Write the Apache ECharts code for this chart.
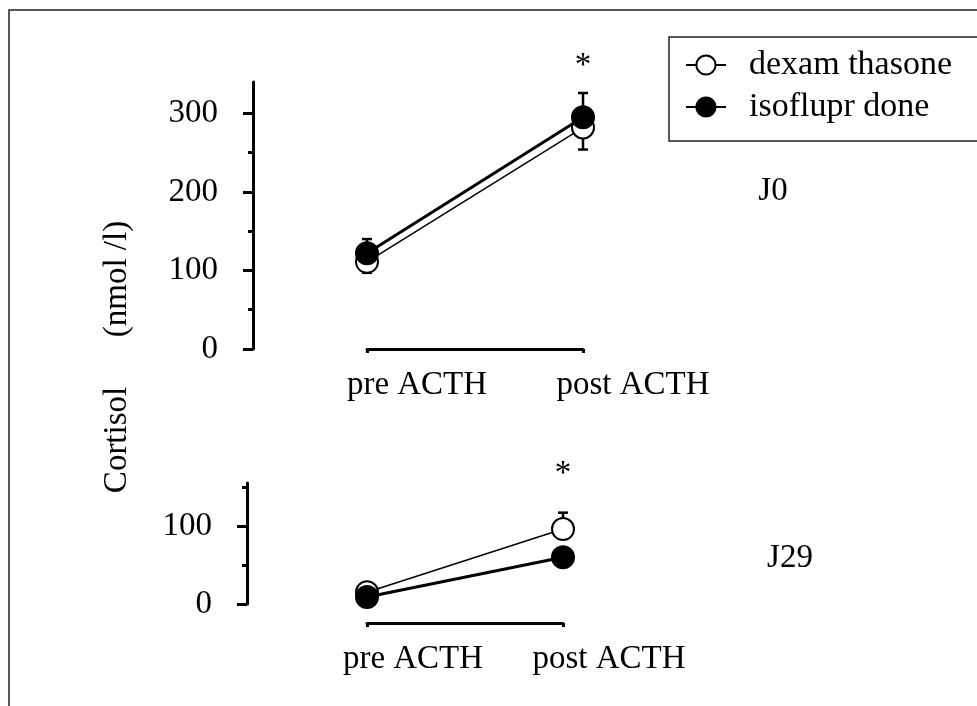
<!DOCTYPE html>
<html>
<head>
<meta charset="utf-8">
<script src="https://cdn.jsdelivr.net/npm/echarts@6/dist/echarts.min.js"></script>
<style>
  html, body { margin: 0; padding: 0; background: #fff; }
  #chart { width: 977px; height: 706px; }
</style>
</head>
<body>
<div id="chart"></div>
<script>
const categories = ["pre ACTH", "post ACTH"];
const seriesNames = ["dexam thasone", "isoflupr done"];

// J0 panel
const dexaJ0 = [111, 282];
const isoJ0 = [122, 295];
const dexaJ0Err = [14, 28];
const isoJ0Err = [18, 31];
const dexaJ0Dir = [-1, -1];
const isoJ0Dir = [1, 1];

// J29 panel
const dexaJ29 = [15, 96];
const isoJ29 = [9, 60];
const dexaJ29Err = [3, 21];
const isoJ29Err = [2, 3];
const dexaJ29Dir = [1, 1];
const isoJ29Dir = [-1, -1];

const j0Major = [0, 100, 200, 300];
const j0Minor = [50, 150, 250];
const j29Major = [0, 100];
const j29Minor = [50, 150];

const FONT = "Liberation Serif";
const FS = 33;

const chart = echarts.init(document.getElementById("chart"));

const errData = (means, errs, dirs) =>
  means.map((m, i) => [i, m, errs[i], dirs[i]]);

const renderErr = (params, api) => {
  const x = api.value(0);
  const m = api.value(1);
  const end = m + api.value(2) * api.value(3);
  const p0 = api.coord([x, m]);
  const p1 = api.coord([x, end]);
  const cap = 5;
  return {
    type: "group",
    children: [
      {
        type: "line",
        shape: { x1: p0[0], y1: p0[1], x2: p1[0], y2: p1[1] },
        style: { stroke: "#000", lineWidth: 2.5 },
      },
      {
        type: "line",
        shape: { x1: p1[0] - cap, y1: p1[1], x2: p1[0] + cap, y2: p1[1] },
        style: { stroke: "#000", lineWidth: 2.5 },
      },
    ],
  };
};

const yAxisBase = (gridIndex, max, offset) => ({
  type: "value",
  gridIndex: gridIndex,
  position: "left",
  min: 0,
  max: max,
  offset: offset,
  splitLine: { show: false },
});

const openStyle = {
  symbol: "circle",
  symbolSize: 22,
  itemStyle: { color: "#fff", borderColor: "#000", borderWidth: 2 },
  lineStyle: { color: "#000", width: 1.5 },
};
const filledStyle = {
  symbol: "circle",
  symbolSize: 22,
  itemStyle: { color: "#000", borderColor: "#000", borderWidth: 2 },
  lineStyle: { color: "#000", width: 3 },
};

const xAxisBase = (gridIndex, offset, pad) => ({
  type: "category",
  gridIndex: gridIndex,
  data: categories,
  boundaryGap: false,
  offset: offset,
  axisLine: { onZero: false, lineStyle: { color: "#000", width: 3 } },
  axisTick: { length: 4, lineStyle: { color: "#000", width: 3 } },
  axisLabel: {
    interval: 0,
    hideOverlap: false,
    color: "#000",
    fontFamily: FONT,
    fontSize: FS,
    margin: 20,
    padding: [0, 0, 0, pad],
  },
});

const textMark = (text, x, y, va, extra) =>
  Object.assign(
    {
      type: "text",
      x: x,
      y: y,
      style: {
        text: text,
        fontFamily: FONT,
        fontSize: FS,
        fill: "#000",
        align: "center",
        verticalAlign: va,
      },
    },
    extra || {}
  );

const option = {
  animation: false,
  backgroundColor: "#fff",
  legend: {
    data: seriesNames,
    orient: "vertical",
    left: 669,
    top: 37,
    padding: [11, 60, 17, 16],
    itemGap: 8,
    itemWidth: 40,
    itemHeight: 24,
    borderColor: "#222",
    borderWidth: 1.5,
    textStyle: {
      color: "#000",
      fontFamily: FONT,
      fontSize: 34,
      padding: [0, 0, 0, 18],
    },
  },
  grid: [
    { left: 367, top: 82, width: 216, height: 267 },
    { left: 367, top: 483, width: 196, height: 121 },
  ],
  xAxis: [xAxisBase(0, 0, 100), xAxisBase(1, 19, 92)],
  yAxis: [
    Object.assign(yAxisBase(0, 340, 114), {
      axisLine: { show: true, lineStyle: { color: "#000", width: 3 } },
      axisTick: {
        show: true,
        length: 10,
        customValues: j0Major,
        lineStyle: { color: "#000", width: 3 },
      },
      axisLabel: {
        customValues: j0Major,
        color: "#000",
        fontFamily: FONT,
        fontSize: FS,
        margin: 35,
      },
    }),
    Object.assign(yAxisBase(0, 340, 114), {
      axisLine: { show: false },
      axisTick: {
        show: true,
        length: 5,
        customValues: j0Minor,
        lineStyle: { color: "#000", width: 3 },
      },
      axisLabel: { show: false },
    }),
    Object.assign(yAxisBase(1, 155, 120), {
      axisLine: { show: true, lineStyle: { color: "#000", width: 3 } },
      axisTick: {
        show: true,
        length: 10,
        customValues: j29Major,
        lineStyle: { color: "#000", width: 3 },
      },
      axisLabel: {
        customValues: j29Major,
        color: "#000",
        fontFamily: FONT,
        fontSize: FS,
        margin: 35,
      },
    }),
    Object.assign(yAxisBase(1, 155, 120), {
      axisLine: { show: false },
      axisTick: {
        show: true,
        length: 5,
        customValues: j29Minor,
        lineStyle: { color: "#000", width: 3 },
      },
      axisLabel: { show: false },
    }),
  ],
  graphic: [
    {
      type: "rect",
      shape: { x: 9, y: 10, width: 1100, height: 1000 },
      style: { fill: "none", stroke: "#222", lineWidth: 1.5 },
      silent: true,
    },
    textMark("Cortisol      (nmol /l)", 117, 357, "middle", { rotation: Math.PI / 2 }),
    textMark("J0", 773, 191, "middle"),
    textMark("J29", 790, 558, "middle"),
    textMark("*", 583, 50, "top"),
    textMark("*", 563, 458, "top"),
  ],
  series: [
    Object.assign({ name: seriesNames[0], type: "line", xAxisIndex: 0, yAxisIndex: 0, data: dexaJ0, z: 3 }, openStyle),
    Object.assign({ name: seriesNames[1], type: "line", xAxisIndex: 0, yAxisIndex: 0, data: isoJ0, z: 4 }, filledStyle),
    Object.assign({ name: seriesNames[0], type: "line", xAxisIndex: 1, yAxisIndex: 2, data: dexaJ29, z: 3 }, openStyle),
    Object.assign({ name: seriesNames[1], type: "line", xAxisIndex: 1, yAxisIndex: 2, data: isoJ29, z: 4 }, filledStyle),
    { type: "custom", xAxisIndex: 0, yAxisIndex: 0, z: 2, renderItem: renderErr, data: errData(dexaJ0, dexaJ0Err, dexaJ0Dir) },
    { type: "custom", xAxisIndex: 0, yAxisIndex: 0, z: 2, renderItem: renderErr, data: errData(isoJ0, isoJ0Err, isoJ0Dir) },
    { type: "custom", xAxisIndex: 1, yAxisIndex: 2, z: 2, renderItem: renderErr, data: errData(dexaJ29, dexaJ29Err, dexaJ29Dir) },
    { type: "custom", xAxisIndex: 1, yAxisIndex: 2, z: 2, renderItem: renderErr, data: errData(isoJ29, isoJ29Err, isoJ29Dir) },
  ],
};

chart.setOption(option);
</script>
</body>
</html>
